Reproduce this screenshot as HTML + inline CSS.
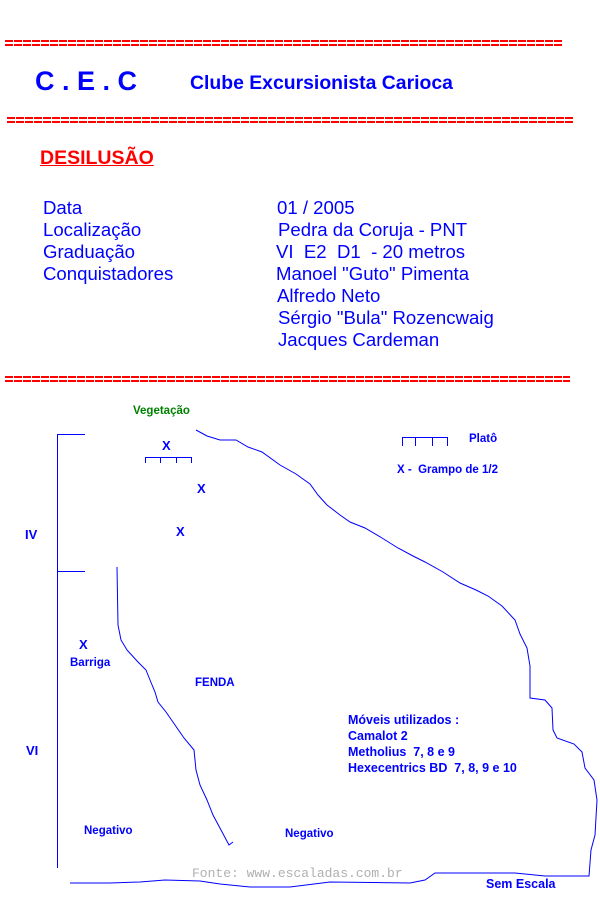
<!DOCTYPE html>
<html><head><meta charset="utf-8"><style>
body{margin:0;width:600px;height:900px;background:#fff;position:relative;overflow:hidden;font-family:"Liberation Sans",Arial,sans-serif;color:#0000ff}
.t{position:absolute;white-space:nowrap;line-height:1}
.f{font-size:18.6px}
.s{font-size:11.5px;font-weight:bold}
</style></head><body>
<div class="t" style="left:35px;top:68px;font-size:27px;font-weight:bold">C . E . C</div>
<div class="t" style="left:190px;top:74px;font-size:19.4px;font-weight:bold">Clube Excursionista Carioca</div>
<div class="t" style="left:40px;top:149px;font-size:19.5px;font-weight:bold;color:#ff0000;text-decoration:underline">DESILUSÃO</div>
<div class="t f" style="left:43px;top:199px">Data</div>
<div class="t f" style="left:43px;top:221px">Localização</div>
<div class="t f" style="left:43px;top:243px">Graduação</div>
<div class="t f" style="left:43px;top:265px">Conquistadores</div>
<div class="t f" style="left:277px;top:199px">01 / 2005</div>
<div class="t f" style="left:278px;top:221px">Pedra da Coruja - PNT</div>
<div class="t f" style="left:276px;top:243px">VI&nbsp; E2&nbsp; D1&nbsp; - 20 metros</div>
<div class="t f" style="left:276px;top:265px">Manoel "Guto" Pimenta</div>
<div class="t f" style="left:277px;top:287px">Alfredo Neto</div>
<div class="t f" style="left:278px;top:309px">Sérgio "Bula" Rozencwaig</div>
<div class="t f" style="left:278px;top:331px">Jacques Cardeman</div>

<div class="t s" style="left:133px;top:406px;color:#008000">Vegetação</div>
<div class="t s" style="left:469px;top:434px">Platô</div>
<div class="t s" style="left:397px;top:465px">X -&nbsp; Grampo de 1/2</div>
<div class="t s" style="left:162px;top:439px;font-size:13px">X</div>
<div class="t s" style="left:197px;top:482px;font-size:13px">X</div>
<div class="t s" style="left:176px;top:525px;font-size:13px">X</div>
<div class="t s" style="left:79px;top:638px;font-size:13px">X</div>
<div class="t s" style="left:25px;top:528px;font-size:13px">IV</div>
<div class="t s" style="left:26px;top:744px;font-size:13px">VI</div>
<div class="t s" style="left:70px;top:658px">Barriga</div>
<div class="t s" style="left:195px;top:678px">FENDA</div>
<div class="t s" style="left:84px;top:826px">Negativo</div>
<div class="t s" style="left:285px;top:829px">Negativo</div>
<div class="t s" style="left:348px;top:712px;font-size:12.5px;line-height:16px">Móveis utilizados :<br>Camalot 2<br>Metholius&nbsp; 7, 8 e 9<br>Hexecentrics BD&nbsp; 7, 8, 9 e 10</div>
<div class="t" style="left:192px;top:867px;font-family:'Liberation Mono',monospace;font-size:13px;color:#b0b0b0">Fonte: www.escaladas.com.br</div>
<div class="t s" style="left:486px;top:878px;font-size:12.5px">Sem Escala</div>

<svg width="600" height="900" style="position:absolute;left:0;top:0" fill="none" stroke="#0000ff" stroke-width="1">
<g stroke="#ff0000" stroke-width="2" stroke-dasharray="8 1">
<path d="M5 41H563M5 45H563"/>
<path d="M7 118H573M7 122H573"/>
<path d="M5 377H570M5 381H570"/>
</g>
<path d="M57.5 434V868M57 434.5H85M57 571.5H85"/>
<path d="M145.5 463V457.5H191.5V463M160.5 457V463M176.5 457V463"/>
<path d="M402.5 446V437.5H447.5V446M415.5 437V446M432.5 437V446"/>
<path d="M117 567L118 625L121 640L127 650L138 662L146 670L150 680L155 692L158 702L166 712L175 725L184 738L194 750L196 770L200 785L207 800L213 815L221 830L229 845L233 842"/>
<path d="M196 430L207 436L220 440L236 440L248 447L262 452L280 465L296 474L310 484L318 495L327 505L340 515L350 522L365 528L382 538L398 548L413 556L425 562L443 572L460 583L476 590L488 596L502 606L515 620L520 634L527 648L530 666L530 698L545 700L552 708L553 730L557 738L574 744L582 752L585 768L594 780L597 800L595 835L591 850L589 876L585 876"/>
<path d="M585 876H545L515 873H435L425 880L410 883L330 882L290 887H250L220 884L200 881L165 880L140 882L110 883H70"/>
</svg>
</body></html>
